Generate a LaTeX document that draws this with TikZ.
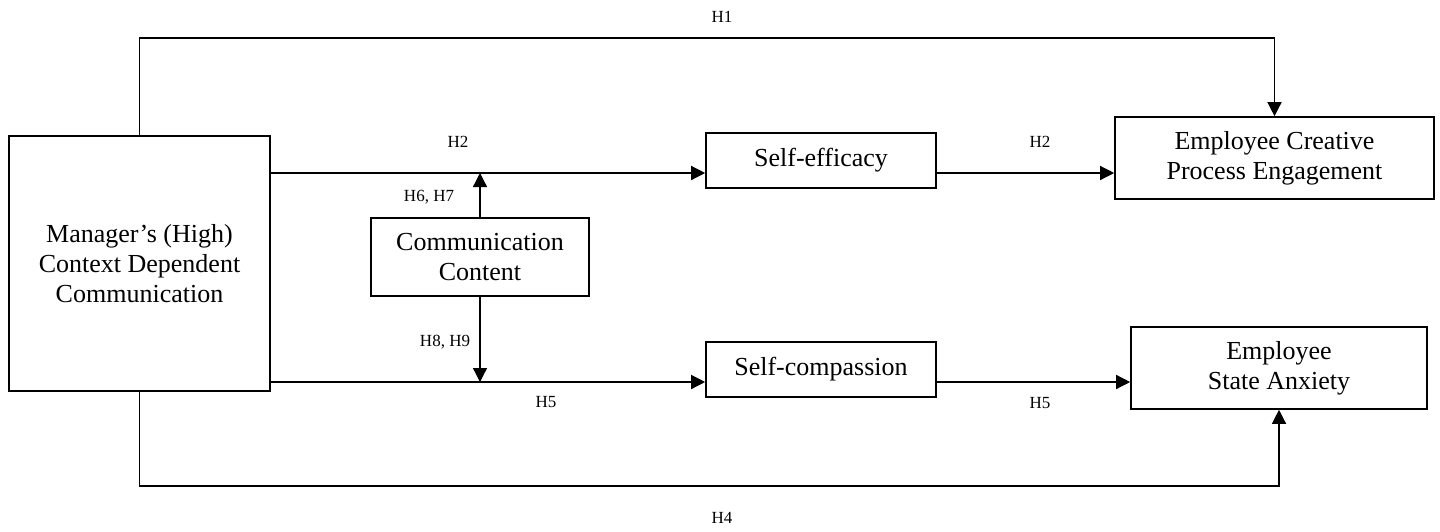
\documentclass[tikz,border=0pt]{standalone}
\usepackage{fontspec}
\setmainfont{Liberation Serif}
\usetikzlibrary{arrows.meta}

\begin{document}
\begin{tikzpicture}
  [x=1pt,y=-1pt,
   box/.style={draw,line width=1.6pt,align=center,inner sep=0pt,font=\fontsize{26}{30}\selectfont},
   hyp/.style={font=\fontsize{17}{20}\selectfont},
   arr/.style={line width=1.3pt,-{Triangle[length=14pt,width=14pt]}}]
  \useasboundingbox (0,0) rectangle (1440,531);

  \node[box,minimum width=261pt,minimum height=255pt] (mgr) at (139.5,263.5) {Manager’s (High)\\Context Dependent\\Communication};
  \node[box,minimum width=230pt,minimum height=55pt]  (se)  at (821,160.5)  {Self-efficacy};
  \node[box,minimum width=230pt,minimum height=55pt]  (sc)  at (821,369.5)  {Self-compassion};
  \node[box,minimum width=218pt,minimum height=78pt]  (cc)  at (480,257)    {Communication\\Content};
  \node[box,minimum width=319pt,minimum height=82pt]  (ecpe) at (1274.5,158) {Employee Creative\\Process Engagement};
  \node[box,minimum width=296pt,minimum height=82pt]  (esa) at (1279,368)   {Employee\\State Anxiety};

  \coordinate (top)   at (700,38);
  \coordinate (upper) at (0,173);
  \coordinate (lower) at (0,382);
  \coordinate (bot)   at (700,486);

  \draw[arr] (mgr.north) |- (top) -| (ecpe.north);
  \draw[arr] (mgr.east |- upper) -- (se.west |- upper);
  \draw[arr] (se.east |- upper) -- (ecpe.west |- upper);
  \draw[arr] (cc.north) -- (cc.north |- upper);
  \draw[arr] (cc.south) -- (cc.south |- lower);
  \draw[arr] (mgr.east |- lower) -- (sc.west |- lower);
  \draw[arr] (sc.east |- lower) -- (esa.west |- lower);
  \draw[arr] (mgr.south) |- (bot) -| (esa.south);

  \node[hyp] (h1)  at (722,17)   {H1};
  \node[hyp] (h2a) at (458,142)  {H2};
  \node[hyp] (h2b) at (1040,142) {H2};
  \node[hyp] (h67) at (429,197)  {H6, H7};
  \node[hyp] (h89) at (445,342)  {H8, H9};
  \node[hyp] (h5a) at (546,402)  {H5};
  \node[hyp] (h5b) at (1040,403) {H5};
  \node[hyp] (h4)  at (722,518)  {H4};

\end{tikzpicture}
\end{document}
